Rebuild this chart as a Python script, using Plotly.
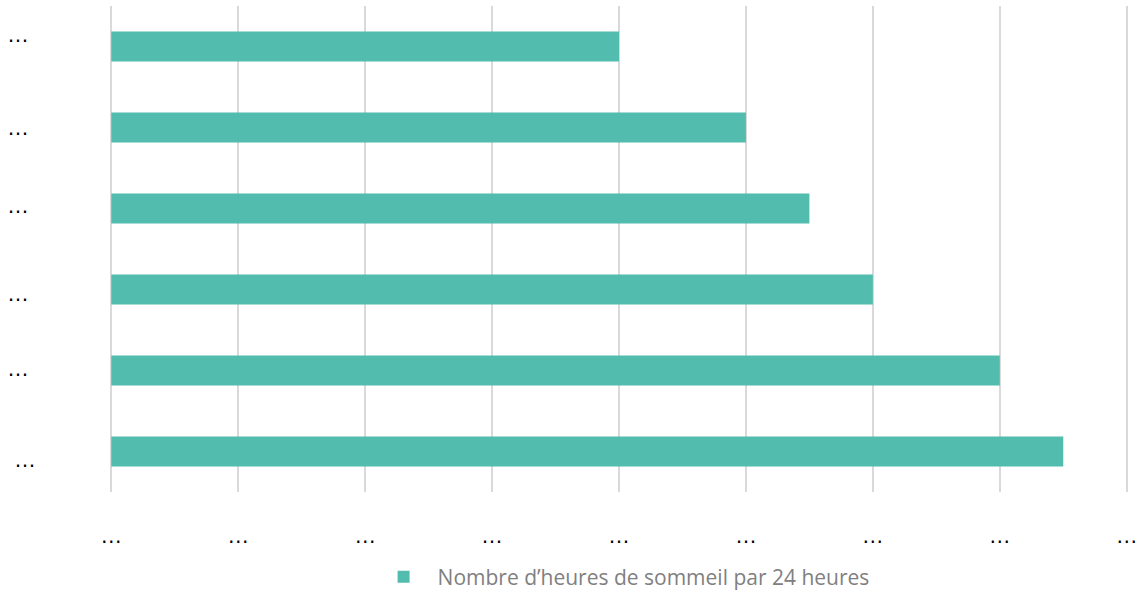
import plotly.graph_objects as go

# Data (bottom to top)
categories = ["…", "…", "…", "…", "…", "…"]
values = [15, 14, 12, 11, 10, 8]
x_tick_vals = [0, 2, 4, 6, 8, 10, 12, 14, 16]
x_tick_text = ["…"] * 9
series_name = "Nombre d’heures de sommeil par 24 heures"

positions = list(range(len(categories)))

fig = go.Figure()
fig.add_trace(go.Bar(
    x=values, y=positions, orientation="h",
    marker=dict(color="#52BCAE", line=dict(width=0)),
    width=0.37, name=series_name, showlegend=True,
))

# label offsets (px) to mimic original placement
yshifts = [-8, 2, -4, 3, 0, 12]
xshifts = [7, 0, 0, 0, 0, 0]
for p, lab, ys, xs in zip(positions, categories, yshifts, xshifts):
    fig.add_annotation(x=0, y=p, xref="paper", yref="y", text=lab,
                       showarrow=False, xanchor="center", yanchor="middle",
                       xshift=-92 + xs, yshift=ys,
                       font=dict(family="Liberation Sans", size=22, color="#000000"))

fig.update_layout(
    width=1137, height=590,
    margin=dict(l=110, r=9, t=6, b=98, autoexpand=False),
    paper_bgcolor="white", plot_bgcolor="white",
    bargap=0.63,
    xaxis=dict(range=[-0.02, 16.02], tickvals=x_tick_vals, ticktext=x_tick_text,
               showgrid=True, gridcolor="#D9D9D9", gridwidth=2,
               zeroline=False, showline=False, ticks="",
               automargin=False, ticklabeloverflow="allow",
               ticklabelstandoff=28,
               tickfont=dict(family="Liberation Sans", size=22, color="#000000")),
    yaxis=dict(range=[-0.5, 5.5], showticklabels=False, showgrid=False,
               zeroline=False, showline=False, ticks="", automargin=False),
    legend=dict(orientation="h", x=0.255, xanchor="left", y=-0.175, yanchor="middle",
                font=dict(family="Open Sans", size=21, color="#808080"),
                itemwidth=58),
    showlegend=True,
)

fig.write_html("out.html", config={"displayModeBar": False},
               post_script="document.body.style.margin='0';")
